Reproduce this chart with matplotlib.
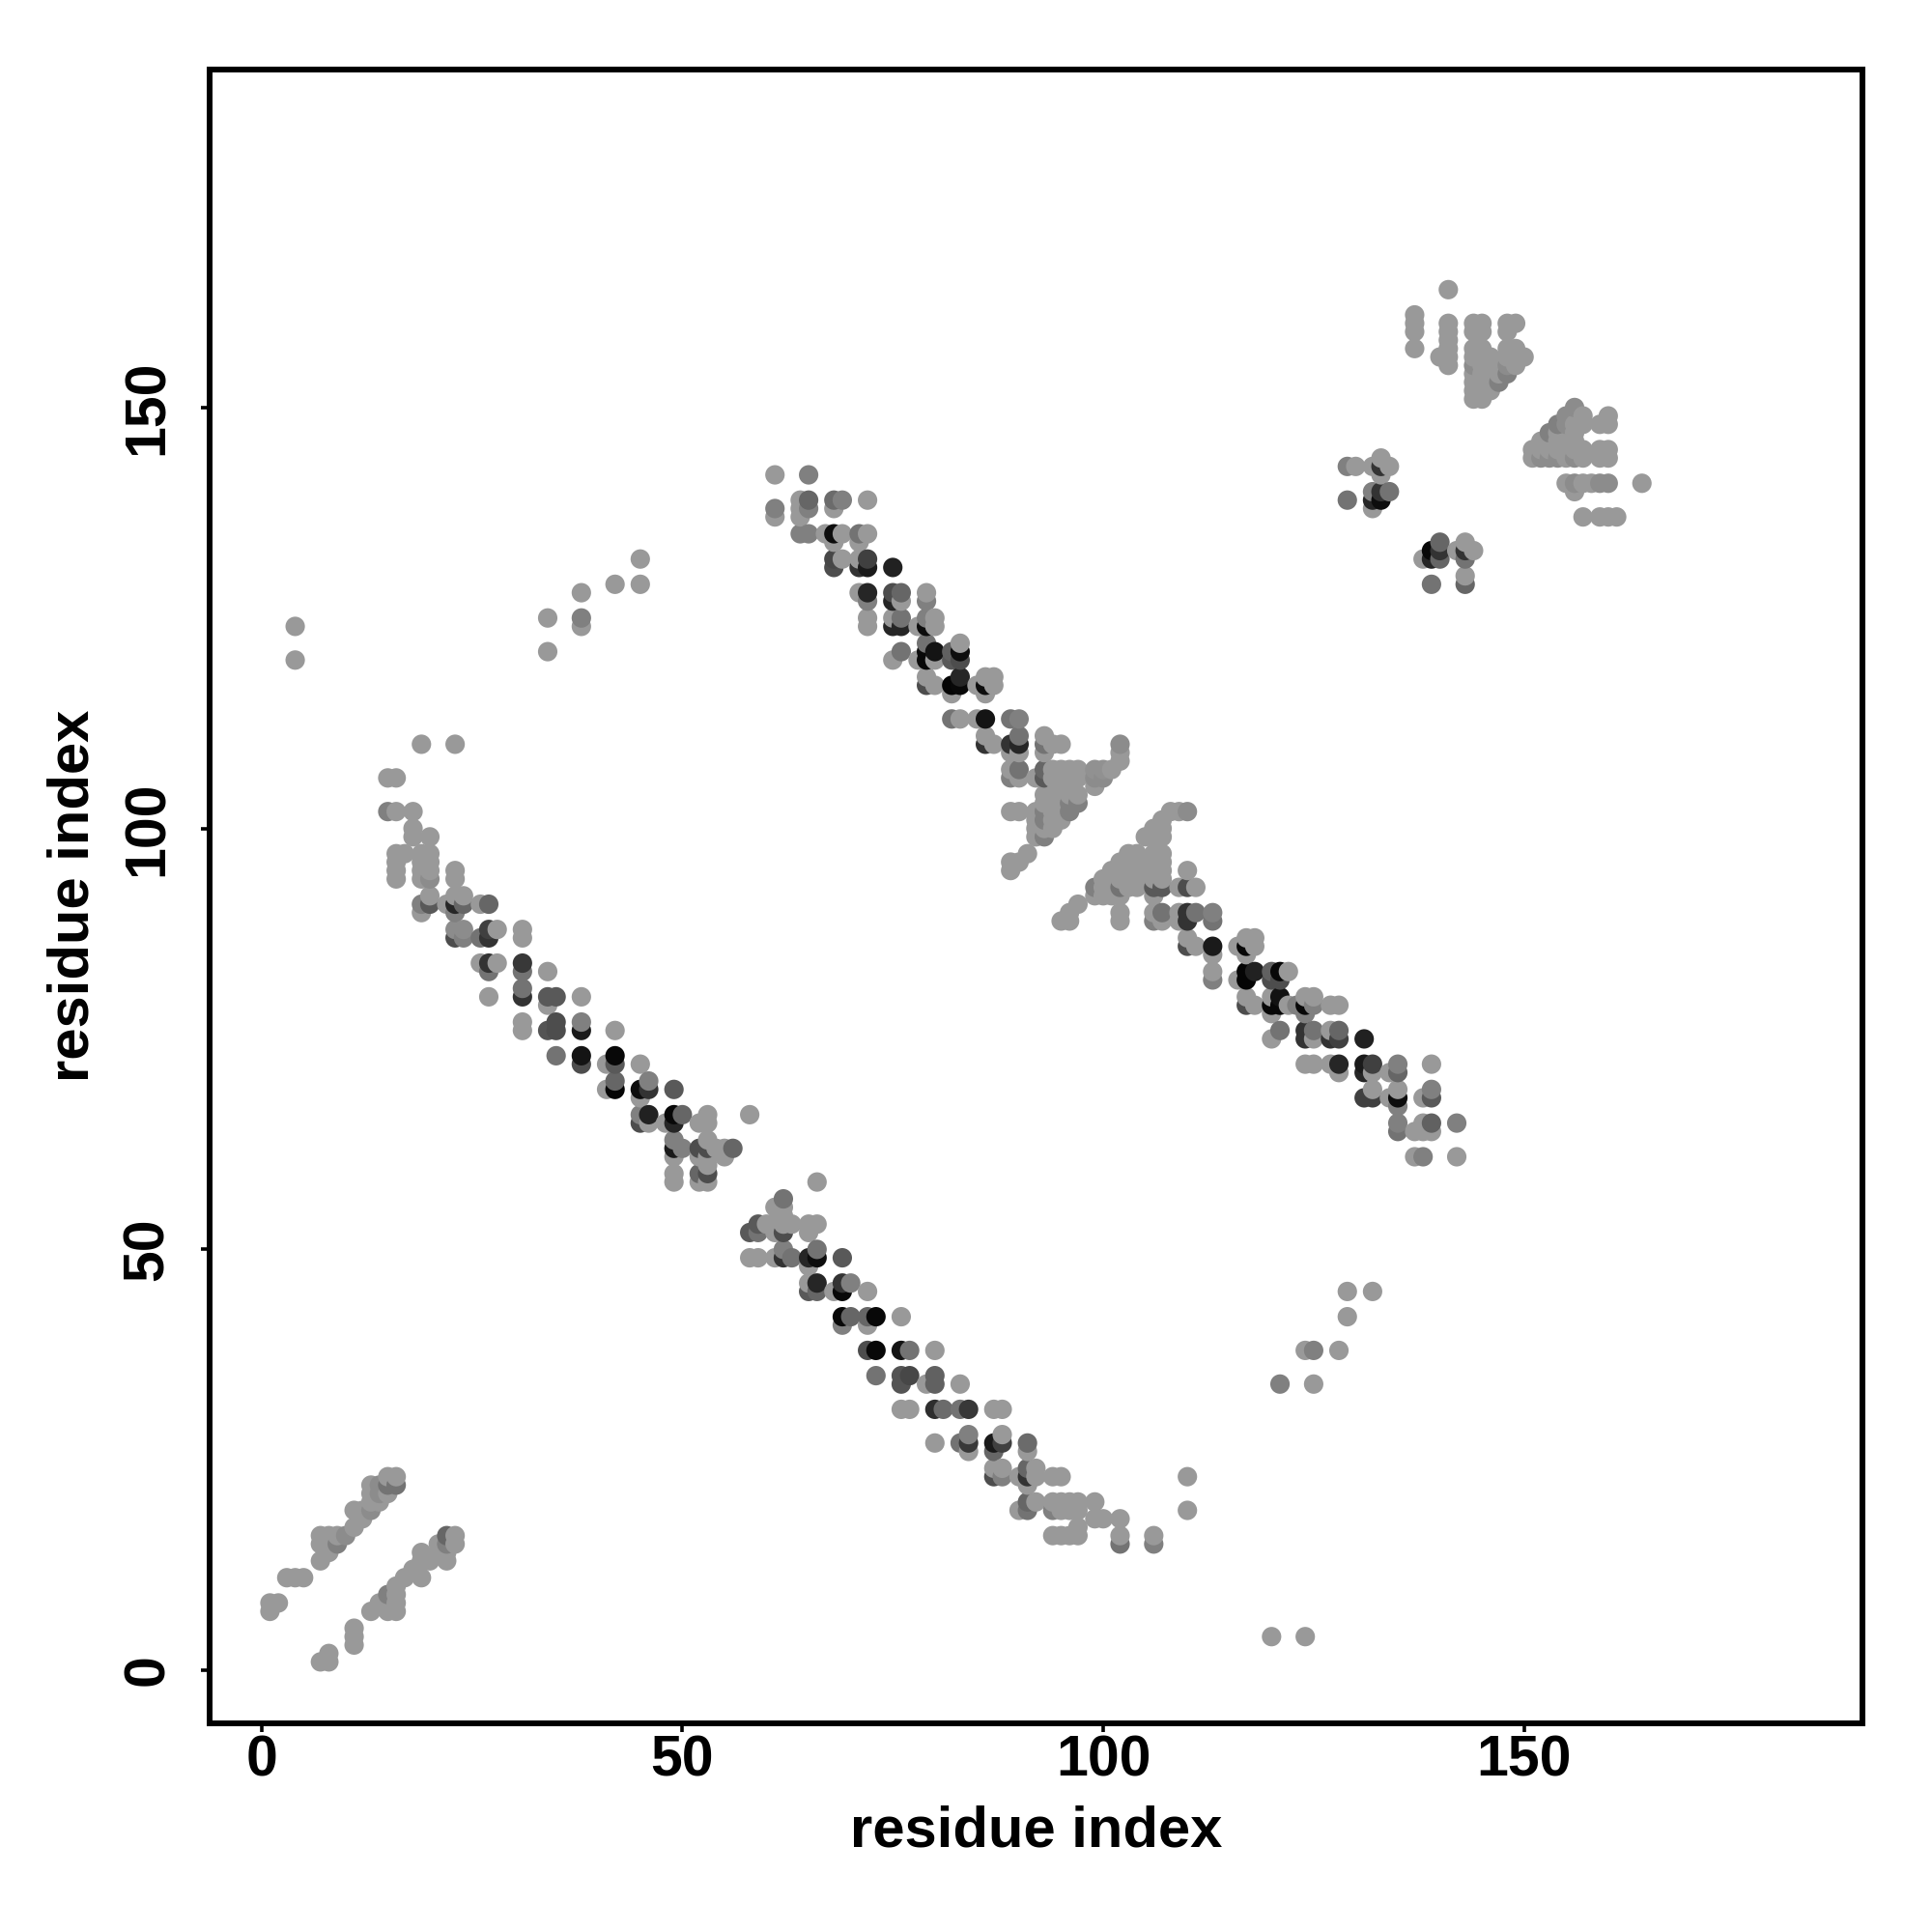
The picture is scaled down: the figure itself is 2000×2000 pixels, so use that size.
import matplotlib
matplotlib.use('Agg')
import matplotlib.pyplot as plt
import numpy as np

# contacts as (x, y) or (x, y, grey); no grey means the pale default
PALE = 0.6

corner_upper = [(1,7),(1,8),(2,8),(3,11),(4,11),(5,11),(7,13),(7,15),(8,15),(9,15,.5),(7,16),(8,16),(9,16),(10,16,.55),
    (8,14),(11,17),(12,18),(11,19),(12,19),(13,19,.55),(13,20),(13,21),(13,22),(14,20),(14,21,.55),(14,22,.55),
    (15,21),(15,22,.45),(15,23),(16,22,.45),(16,23)]
corner_lower = [(7,1),(8,1),(8,2),(11,3),(11,4),(11,5),(13,7),(14,8),(15,7),(15,8),(15,9,.5),(16,7),(16,8),(16,9),
    (16,10),(17,11),(19,11),(18,12),(19,13),(19,14),(20,13),(21,15),(21,14),(22,13),(22,14),(22,15,.5),(22,16,.4),
    (23,15),(23,16)]

band_a_top = [(19,110),(23,110),(15,106),(16,106),(15,102,.5),(16,102),(18,102),(18,100),(18,99),(20,99),
    (16,97),(17,97),(19,97),(20,97),(16,96),(19,96),(20,96),(16,95),(19,95),(20,95),(23,95),(16,94),(19,94),
    (20,94,.55),(23,94),(20,92),(23,92),(24,92),(19,91,.5),(20,91,.35),(22,91),(23,91,.15),(24,91,.4),(26,91),
    (27,91,.4),(19,90),(23,90,.5),(23,88,.55),(24,88,.55),(27,88,.25),(28,88),(31,88),(23,87,.3),(24,87,.5),
    (26,87,.45),(27,87,.2),(31,87),(26,84),(27,84,.2),(28,84),(31,84,.22),(27,83,.45),(31,83,.45),(34,83)]
band_a_mid = [(27,80),(31,81,.45),(31,80,.2),(34,80,.35),(35,80,.35),(38,80),(34,79),(31,77),(35,77,.3),(38,77,.5),
    (31,76),(34,76,.33),(35,76,.3),(38,76,.1),(42,76),(35,73,.45),(38,73,.08),(42,73,.03),(38,72,.3),(41,72),
    (42,72,.35),(45,72),(42,70,.4),(46,70,.5),(41,69),(42,69,.02),(45,69,.05),(46,69,.2),(49,69,.35),(45,68),
    (45,66,.5),(46,66,.13),(49,66,.03),(50,66,.4),(53,66),(58,66),(45,65,.3),(46,65),(48,65),(49,65,.15),(52,65),
    (53,65),(49,63,.5),(53,63),(49,62,.1),(50,62,.5),(52,62,.3),(53,62,.3),(54,62),(55,62),(56,62,.4),(49,61),
    (52,61),(53,61),(55,61),(53,60),(49,59),(52,59,.4),(53,59,.3),(49,58),(52,58),(53,58)]
band_a_low = [(66,58),(62,56,.45),(61,55),(62,55),(62,54),(59,53,.35),(60,53),(61,53),(62,53),(63,53),(65,53),(66,53),
    (58,52,.35),(59,52,.45),(61,52),(62,52,.3),(65,52),(58,49),(59,49),(61,49),(62,49,.2),(63,49,.45),(65,49,.15),
    (66,49,.05),(69,49,.35),(62,50,.5),(66,50,.45),(65,48),(65,46),(66,46,.15),(69,46,.2),(70,46,.5),(65,45,.35),
    (66,45,.4),(68,45),(69,45,.03),(72,45),(69,42,.03),(70,42,.4),(72,42,.4),(73,42,.03),(76,42),(69,41,.5),(72,41),
    (72,38,.3),(73,38,.03),(76,38,.08),(77,38,.45),(80,38),(73,35,.45),(76,35,.33),(77,35,.28),(80,35,.38),
    (76,34,.33),(79,34),(80,34,.38),(83,34),(76,31),(77,31),(80,31,.18),(81,31,.42),(83,31,.45),(84,31,.22),
    (87,31),(88,31),(84,28,.5),(88,28),(80,27),(83,27,.45),(84,27,.22),(87,27,.1),(88,27,.25),(91,27,.42),(84,26),
    (87,26,.4),(91,26),(87,24),(88,24),(91,24,.4),(92,24),(87,23,.3),(88,23,.5),(90,23),(91,23,.2),(92,23),(94,23),
    (95,23),(110,23),(91,22),(91,20,.4),(92,20),(94,20),(95,20),(96,20),(97,20),(99,20),(90,19),(91,19,.45),
    (94,19,.5),(95,19),(96,19),(97,19),(110,19),(99,18),(100,18),(102,18),(97,17),(94,16),(95,16),(96,16),(97,16),
    (102,16),(106,16),(102,15,.45),(106,15,.5)]

band_b_top = [(61,142),(65,142,.5),(64,139),(65,139,.4),(68,139,.42),(69,139,.5),(72,139),(61,138,.5),(64,138),
    (65,138,.5),(68,138),(61,137),(64,137),(64,135,.5),(65,135,.5),(67,135),(68,135,.05),(69,135),(71,135,.45),
    (72,135),(68,134),(71,134),(68,132,.28),(69,132),(71,132),(72,132,.25),(68,131,.3),(71,131,.2),(72,131,.1),
    (75,131,.13),(71,128),(72,128,.15),(75,128,.3),(76,128,.4),(79,128),(72,127,.5),(75,127,.15),(76,127),
    (79,127,.5),(72,125),(75,125),(76,125,.45),(79,125,.5),(80,125),(72,124),(75,124,.15),(76,124,.15),(78,124),
    (79,124,.05),(80,124),(79,122,.45),(83,122),(76,121,.45),(79,121,.03),(80,121,.08),(82,121,.38),(83,121,.05),
    (75,120),(78,120),(79,120,.03),(80,120),(82,120,.35),(83,120,.3),(79,118),(83,118,.15),(86,118),(87,118),
    (79,117,.3),(80,117),(82,117,.02),(83,117,.03),(85,117),(86,117,.05),(87,117),(82,116),(86,116),
    (82,113,.45),(83,113),(85,113),(86,113,.08),(89,113,.45),(90,113,.5)]
band_b_knot = [(86,111),(90,111,.45),(93,111),(86,110,.2),(87,110),(89,110,.2),(90,110,.15),(93,110,.45),(94,110),
    (95,110),(102,110,.55),(89,109),(90,109),(93,109),(102,109),(102,108),(89,107),(90,107,.45),(93,107,.4),(94,107),
    (95,107),(96,107),(97,107),(99,107,.57),(100,107,.57),(101,107),(89,106,.5),(90,106),(92,106),(93,106,.35),
    (94,106),(95,106),(96,106),(97,106),(99,106,.55),(100,106,.55),(99,105),(93,104),(94,104),(95,104),(96,104),
    (97,104),(93,103),(94,103),(95,103),(96,103,.5),(97,103,.5),(89,102),(90,102),(92,102),(93,102,.5),(94,102),
    (95,102),(96,102,.5),(92,101),(93,101,.5),(94,101),(95,101),(92,100),(93,100),(94,100),(92,99),(93,99,.5),
    (91,97),(89,96),(90,96),(89,95)]
band_b_mid = [(108,102),(109,102),(110,102,.55),(107,101),(106,100),(107,100),(105,99),(106,99),(107,99),
    (103,97),(104,97),(106,97),(107,97),(102,96),(103,96),(104,96),(106,96),(107,96),(101,95),(102,95),(103,95),
    (104,95),(106,95),(107,95),(110,95),(100,94),(101,94),(102,94),(103,94),(104,94),(106,94),(107,94),(99,93,.5),
    (100,93),(101,93),(102,93,.45),(103,93),(104,93),(106,93,.35),(107,93,.35),(109,93),(110,93,.3),(111,93),
    (99,92),(100,92),(101,92),(102,92),(106,92),(97,91),(96,90),(95,89),(96,89),(102,90),(106,90),(107,90,.45),
    (109,90),(110,90,.2),(111,90,.45),(113,90,.5),(102,89),(106,89,.5),(107,89),(109,89),(110,89,.2),(113,89,.45),
    (110,87),(117,87),(118,87),(110,86,.3),(111,86),(113,86,.1),(116,86),(117,86,.03),(118,86),(113,85),(117,85)]
band_b_low = [(113,83),(117,83,.02),(118,83,.13),(120,83,.38),(121,83,.03),(122,83),(113,82,.5),(116,82),(117,82,.02),
    (120,82,.3),(121,82,.3),(117,80),(120,80),(121,80,.07),(124,80),(125,80),(117,79,.3),(118,79),(120,79,.03),
    (121,79,.03),(122,79),(123,79,.5),(124,79,.03),(125,79,.5),(127,79),(128,79),(120,78),(124,78,.5),(121,76,.45),
    (124,76,.2),(125,76,.45),(127,76),(128,76,.4),(120,75),(124,75,.2),(125,75),(127,75,.2),(128,75,.25),(131,75,.13),
    (124,72),(125,72),(127,72),(128,72,.15),(131,72,.1),(132,72,.25),(135,72,.5),(139,72),(128,71),(131,71,.15),
    (132,71),(134,71),(135,71,.4),(132,69),(135,69),(139,69,.5),(131,68,.25),(132,68,.25),(134,68),(135,68,.05),
    (138,68),(139,68,.35),(135,67,.5),(135,65,.5),(138,65),(139,65,.38),(142,65,.5),(135,64,.45),(137,64),(138,64),
    (139,64),(137,61),(138,61,.5),(142,61)]

far_off_diag = [(4,124),(4,120),(34,125),(34,121),(38,128),(38,125,.5),(38,124),(42,129),(45,129),(45,132),
    (120,4),(124,4),(121,34,.5),(125,34),(124,38),(125,38,.5),(128,38),(129,42),(129,45),(132,45)]

cluster_top = [(141,164),(137,161),(137,160),(137,159),(137,157),(141,160),(141,159),(141,158),(141,157),(141,156),
    (141,155),(140,156),(144,160),(145,160),(144,159),(145,159),(144,157),(145,157),(144,156),(145,156),(144,155,.55),
    (145,155),(144,154),(145,154),(144,153),(145,153),(144,152),(145,152),(144,151),(145,151),(146,156),(146,153),
    (146,152),(147,155),(147,154),(147,153,.5),(148,160),(149,160),(148,159),(148,157),(148,156),(148,155,.55),
    (148,154,.5),(149,157),(149,156),(149,155),(150,156)]
cluster_right = [(151,145),(152,145),(153,145),(154,145),(155,145),(156,145),(157,145),(159,145),(160,145),
    (151,144),(152,144,.55),(153,144,.55),(154,144,.55),(155,144),(156,144,.55),(157,144),(159,144),(160,144),
    (152,146),(153,147,.5),(154,148,.5),(155,149,.55),(156,150,.55),(157,149),(157,148),(156,148),(155,148,.55),
    (154,147),(156,147),(156,146),(154,146),(159,148),(160,148),(160,149),(155,141),(156,141,.55),(157,141),
    (158,141),(159,141,.55),(160,141,.55),(164,141),(156,140),(157,137),(159,137),(160,137),(161,137)]
cluster_left = [(133,144),(129,143,.5),(130,143),(132,143),(133,143,.2),(134,143),(133,142),(132,140,.5),(133,140,.2),
    (134,140,.45),(129,139,.45),(132,139,.15),(133,139,.05),(132,138),(140,134,.4),(143,134),(139,133,.03),(140,133,.2),
    (142,133),(143,133,.2),(144,133),(138,132),(139,132,.15),(140,132,.4),(143,132,.45),(143,130),(139,129,.45),(143,129,.4)]

tick_vals = [0, 50, 100, 150]

groups = [corner_upper, corner_lower, band_a_top, band_a_mid, band_a_low, band_b_top, band_b_knot,
          band_b_mid, band_b_low, far_off_diag, cluster_top, cluster_right, cluster_left]
pts = [p for g in groups for p in g]
x = np.array([p[0] for p in pts])
y = np.array([p[1] for p in pts])
grey = np.array([p[2] if len(p) > 2 else PALE for p in pts])

# drawn column by column, later ones sit on top
order = np.lexsort((y, x))

plt.rcParams['font.family'] = ['Liberation Sans', 'DejaVu Sans']
plt.rcParams['font.weight'] = 'bold'

fig = plt.figure(figsize=(20, 20), dpi=100)
ax = fig.add_axes([216.7/2000, 1-1784/2000, (1928-216.7)/2000, (1784-71.5)/2000])
ax.scatter(x[order], y[order], s=210, c=[str(g) for g in grey[order]], linewidths=0)

ax.set_xlim(-6.2, 190.2)
ax.set_ylim(-6.3, 190.2)
ax.set_xticks(tick_vals)
ax.set_yticks(tick_vals)
ax.tick_params(axis='x', length=6.3, width=2.6, labelsize=42.5, pad=2)
ax.tick_params(axis='y', length=6.8, width=2.6, labelsize=42.5, pad=19)
for lab in ax.get_yticklabels():
    lab.set_rotation(90)
    lab.set_va('center')
for s in ax.spines.values():
    s.set_linewidth(4.3)

ax.set_xlabel('residue index', fontsize=43, fontweight='bold', labelpad=13)
ax.set_ylabel('residue index', fontsize=43, fontweight='bold', labelpad=16)

fig.savefig('out.png', dpi=100)
